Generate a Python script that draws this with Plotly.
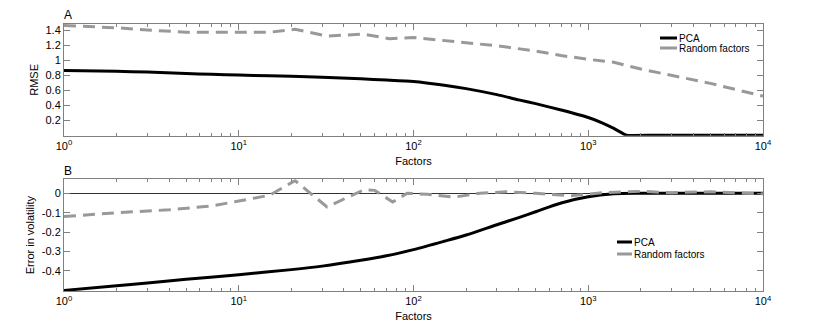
import plotly.graph_objects as go
from plotly.subplots import make_subplots

# ---------------- data ----------------
rmse_pca_x = [1, 2, 3, 5, 7, 10, 15, 20, 30, 50, 70, 100, 150, 200, 300, 400, 500,
              700, 1000, 1200, 1400, 1600, 1650, 2500, 10000]
rmse_pca_y = [0.86, 0.85, 0.84, 0.82, 0.81, 0.80, 0.79, 0.785, 0.77, 0.75, 0.735, 0.715,
              0.665, 0.62, 0.54, 0.47, 0.42, 0.335, 0.235, 0.165, 0.09, 0.015, 0.0, 0.0, 0.0]

rmse_rand_x = [1, 2, 3, 5, 10, 15, 21, 32, 52, 73, 100, 150, 200, 300, 500, 700,
               1000, 1400, 2000, 3000, 5000, 10000]
rmse_rand_y = [1.46, 1.43, 1.40, 1.37, 1.37, 1.37, 1.41, 1.32, 1.345, 1.285, 1.30, 1.26,
               1.235, 1.19, 1.12, 1.06, 1.01, 0.97, 0.88, 0.80, 0.69, 0.52]

vol_pca_x = [1, 2, 3, 5, 10, 20, 30, 50, 70, 100, 150, 200, 300, 400, 500, 700,
             1000, 1400, 2000, 10000]
vol_pca_y = [-0.50, -0.476, -0.462, -0.443, -0.419, -0.393, -0.375, -0.345, -0.322,
             -0.29, -0.247, -0.215, -0.162, -0.125, -0.095, -0.05, -0.018, -0.003, 0.0, 0.0]

vol_rand_x = [1, 2, 4, 7, 10, 15, 21, 32, 52, 60, 76, 92, 120, 170, 240, 340, 500,
              800, 1200, 2000, 3000, 5000, 8000, 10000]
vol_rand_y = [-0.12, -0.10, -0.085, -0.065, -0.04, -0.01, 0.065, -0.07, 0.018, 0.015,
              -0.045, 0.0, -0.005, -0.02, 0.0, 0.008, 0.0, -0.013, 0.003, 0.01, 0.003,
              0.008, 0.0, -0.003]

x_tick_vals = [1, 10, 100, 1000, 10000]
x_tick_text = ["10<sup>0</sup>", "10<sup>1</sup>", "10<sup>2</sup>", "10<sup>3</sup>", "10<sup>4</sup>"]
rmse_tick_vals = [0.2, 0.4, 0.6, 0.8, 1.0, 1.2, 1.4]
rmse_tick_text = ["0.2", "0.4", "0.6", "0.8", "1", "1.2", "1.4"]
vol_tick_vals = [-0.4, -0.3, -0.2, -0.1, 0.0]
vol_tick_text = ["-0.4", "-0.3", "-0.2", "-0.1", "0"]
series_names = ["PCA", "Random factors"]

# ---------------- style ----------------
W, H = 817, 327
L, R, T, B = 64, 763, 24, 291
FONT = "Liberation Sans, Arial, Helvetica, sans-serif"
BLACK = "#000000"
GRAY = "#999999"
FRAME = "#808080"
DASH = "12px,7px"

def px(xp):
    return (xp - L) / (R - L)

def py(yp):
    return (B - yp) / (B - T)

minor_vals = [m * 10 ** d for d in range(4) for m in range(2, 10)]

fig = make_subplots(rows=2, cols=1, vertical_spacing=0.0)

fig.add_trace(go.Scatter(x=rmse_pca_x, y=rmse_pca_y, mode="lines", name=series_names[0],
                         line=dict(color=BLACK, width=3, shape="spline", smoothing=0.6),
                         showlegend=False), row=1, col=1)
fig.add_trace(go.Scatter(x=rmse_rand_x, y=rmse_rand_y, mode="lines", name=series_names[1],
                         line=dict(color=GRAY, width=3, dash=DASH), showlegend=False), row=1, col=1)
fig.add_trace(go.Scatter(x=vol_pca_x, y=vol_pca_y, mode="lines", name=series_names[0],
                         line=dict(color=BLACK, width=3, shape="spline", smoothing=0.8),
                         showlegend=False), row=2, col=1)
fig.add_trace(go.Scatter(x=vol_rand_x, y=vol_rand_y, mode="lines", name=series_names[1],
                         line=dict(color=GRAY, width=3, dash=DASH), showlegend=False), row=2, col=1)

xaxis_common = dict(
    type="log", range=[0, 4], tickmode="array", tickvals=x_tick_vals, ticktext=x_tick_text,
    ticks="inside", ticklen=6, tickcolor=FRAME, showline=True, linecolor=FRAME, linewidth=1,
    mirror="ticks", showgrid=False, zeroline=False, automargin=False,
    tickfont=dict(family=FONT, size=11, color=BLACK),
    title=dict(text="Factors", font=dict(family=FONT, size=11, color=BLACK), standoff=6),
    minor=dict(ticks="inside", ticklen=3, tickcolor=FRAME, tickmode="array", tickvals=minor_vals),
)
fig.update_xaxes(**xaxis_common, row=1, col=1)
fig.update_xaxes(**xaxis_common, row=2, col=1)

top_dom = [py(135.8), 1.0]
bot_dom = [0.0, py(179.3)]
fig.update_layout(
    xaxis=dict(domain=[0, 1], anchor="y"),
    xaxis2=dict(domain=[0, 1], anchor="y2"),
    yaxis=dict(domain=top_dom, range=[-0.008, 1.48], tickmode="array",
               tickvals=rmse_tick_vals, ticktext=rmse_tick_text,
               ticks="inside", ticklen=6, tickcolor=FRAME, showline=True, linecolor=FRAME,
               mirror="ticks", showgrid=False, zeroline=False, automargin=False,
               tickfont=dict(family=FONT, size=11, color=BLACK),
               title=dict(text="RMSE", font=dict(family=FONT, size=11, color=BLACK), standoff=4)),
    yaxis2=dict(domain=bot_dom, range=[-0.503, 0.072], tickmode="array",
                tickvals=vol_tick_vals, ticktext=vol_tick_text,
                ticks="inside", ticklen=6, tickcolor=FRAME, showline=True, linecolor=FRAME,
                mirror="ticks", showgrid=False, zeroline=True, zerolinecolor="#333333",
                zerolinewidth=1, automargin=False,
                tickfont=dict(family=FONT, size=11, color=BLACK),
                title=dict(text="Error in volatility", font=dict(family=FONT, size=11, color=BLACK),
                           standoff=4)),
)

shapes = []
annotations = []

def legend(x0, x1, y_pca, y_rand, xt):
    shapes.append(dict(type="line", xref="paper", yref="paper", x0=px(x0), x1=px(x1),
                       y0=py(y_pca), y1=py(y_pca), line=dict(color=BLACK, width=3)))
    shapes.append(dict(type="line", xref="paper", yref="paper", x0=px(x0), x1=px(x1),
                       y0=py(y_rand), y1=py(y_rand), line=dict(color=GRAY, width=3)))
    for name, yy in zip(series_names, [y_pca, y_rand]):
        annotations.append(dict(text=name, xref="paper", yref="paper", x=px(xt), y=py(yy),
                                xanchor="left", yanchor="middle", showarrow=False,
                                font=dict(family=FONT, size=10, color=BLACK)))

legend(660, 677, 38, 48, 677)
legend(617, 632, 242, 254, 632)

for lab, yy in [("A", 15), ("B", 171)]:
    annotations.append(dict(text=lab, xref="paper", yref="paper", x=px(68), y=py(yy),
                            xanchor="center", yanchor="middle", showarrow=False,
                            font=dict(family=FONT, size=12, color=BLACK)))

fig.update_layout(
    width=W, height=H, margin=dict(l=L, r=W - R, t=T, b=H - B, autoexpand=False),
    paper_bgcolor="white", plot_bgcolor="white", showlegend=False,
    shapes=shapes, annotations=annotations,
    font=dict(family=FONT, size=11, color=BLACK),
)

fig.write_html("out.html", config={"displayModeBar": False, "staticPlot": True},
               post_script="document.body.style.margin='0px';")
